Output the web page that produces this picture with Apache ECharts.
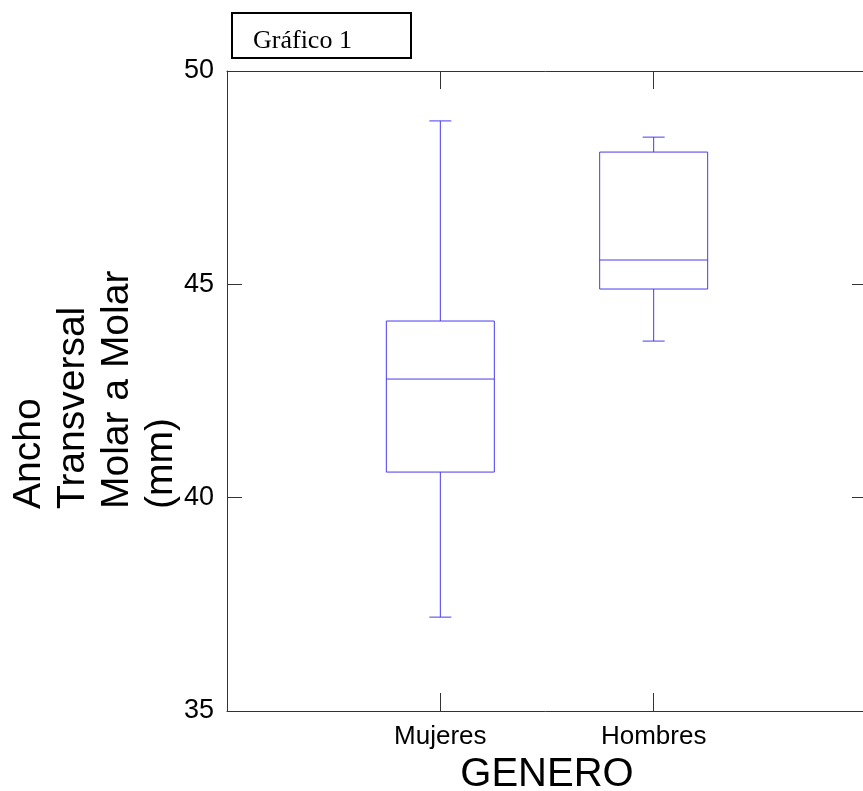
<!DOCTYPE html>
<html>
<head>
<meta charset="utf-8">
<script src="https://cdn.jsdelivr.net/npm/echarts@6/dist/echarts.min.js"></script>
<style>
    html, body { margin: 0; padding: 0; background: #fff; }
    #chart { width: 863px; height: 791px; }
</style>
</head>
<body>
<div id="chart"></div>
<script>
// categories (blank ends keep the 0..3 range of the original axis)
const categories = ['', 'Mujeres', 'Hombres', ''];
const yTicks = [35, 40, 45, 50];

// box stats per group: [category index, min, Q1, median, Q3, max]
const mujeres = [1, 37.2, 40.6, 42.78, 44.14, 48.83];
const hombres = [2, 43.67, 44.89, 45.57, 48.10, 48.45];

const boxColor = '#4a3aee';
const axisColor = '#333';
const sans = '"Liberation Sans", Arial, sans-serif';

function renderBox(params, api) {
    let x = api.value(0);
    let low = api.coord([x, api.value(1)]);
    let q1 = api.coord([x, api.value(2)]);
    let med = api.coord([x, api.value(3)]);
    let q3 = api.coord([x, api.value(4)]);
    let high = api.coord([x, api.value(5)]);
    let half = 54;
    let cap = 11;
    let cx = low[0];
    let style = { stroke: boxColor, lineWidth: 1, fill: null };
    return {
        type: 'group',
        children: [
            { type: 'rect', shape: { x: cx - half, y: q3[1], width: half * 2, height: q1[1] - q3[1] }, style: style },
            { type: 'line', shape: { x1: cx - half, y1: med[1], x2: cx + half, y2: med[1] }, style: style },
            { type: 'line', shape: { x1: cx, y1: q3[1], x2: cx, y2: high[1] }, style: style },
            { type: 'line', shape: { x1: cx, y1: q1[1], x2: cx, y2: low[1] }, style: style },
            { type: 'line', shape: { x1: cx - cap, y1: high[1], x2: cx + cap, y2: high[1] }, style: style },
            { type: 'line', shape: { x1: cx - cap, y1: low[1], x2: cx + cap, y2: low[1] }, style: style }
        ]
    };
}

let chart = echarts.init(document.getElementById('chart'));

let showTick = (index) => categories[index] !== '';

chart.setOption({
    animation: false,
    backgroundColor: '#fff',
    grid: {
        left: 227,
        top: 71,
        right: -4,
        bottom: 80,
        outerBoundsMode: 'none'
    },
    xAxis: [{
        type: 'category',
        data: categories,
        boundaryGap: false,
        position: 'bottom',
        name: 'GENERO',
        nameLocation: 'middle',
        nameGap: 40,
        nameTextStyle: { fontSize: 40, fontFamily: sans, color: '#000' },
        axisLine: { lineStyle: { color: axisColor, width: 1 } },
        axisTick: { inside: true, length: 18, interval: showTick, lineStyle: { color: axisColor } },
        axisLabel: { interval: 0, margin: 13, fontSize: 26, fontFamily: sans, color: '#000' },
        splitLine: { show: false }
    }, {
        type: 'category',
        data: categories,
        boundaryGap: false,
        position: 'top',
        axisLine: { lineStyle: { color: axisColor, width: 1 } },
        axisTick: { inside: true, length: 18, interval: showTick, lineStyle: { color: axisColor } },
        axisLabel: { show: false },
        splitLine: { show: false }
    }],
    yAxis: [{
        type: 'value',
        min: yTicks[0],
        max: yTicks[yTicks.length - 1],
        interval: 5,
        position: 'left',
        axisLine: { show: true, lineStyle: { color: axisColor, width: 1 } },
        axisTick: { show: true, inside: true, length: 15, lineStyle: { color: axisColor } },
        axisLabel: { margin: 13, fontSize: 27, fontFamily: sans, color: '#000' },
        splitLine: { show: false }
    }, {
        type: 'value',
        min: yTicks[0],
        max: yTicks[yTicks.length - 1],
        interval: 5,
        position: 'right',
        axisLine: { show: true, lineStyle: { color: axisColor, width: 1 } },
        axisTick: { show: true, inside: true, length: 15, lineStyle: { color: axisColor } },
        axisLabel: { show: false },
        splitLine: { show: false }
    }],
    series: [{
        type: 'custom',
        xAxisIndex: 0,
        yAxisIndex: 0,
        renderItem: renderBox,
        encode: { x: 0, y: [1, 2, 3, 4, 5] },
        data: [mujeres, hombres]
    }],
    graphic: [{
        type: 'rect',
        shape: { x: 232, y: 13, width: 179, height: 45 },
        style: { fill: '#fff', stroke: '#000', lineWidth: 2 }
    }, {
        type: 'text',
        x: 253,
        y: 41,
        style: {
            text: 'Gráfico 1',
            font: '26px "Liberation Serif", "Times New Roman", serif',
            fill: '#000',
            align: 'left',
            verticalAlign: 'middle'
        }
    }, {
        type: 'text',
        x: 7,
        y: 509,
        rotation: Math.PI / 2,
        style: {
            text: 'Ancho\nTransversal\nMolar a Molar\n(mm)',
            font: '39px ' + sans,
            lineHeight: 44,
            fill: '#000',
            align: 'left',
            verticalAlign: 'top'
        }
    }]
});
</script>
</body>
</html>
